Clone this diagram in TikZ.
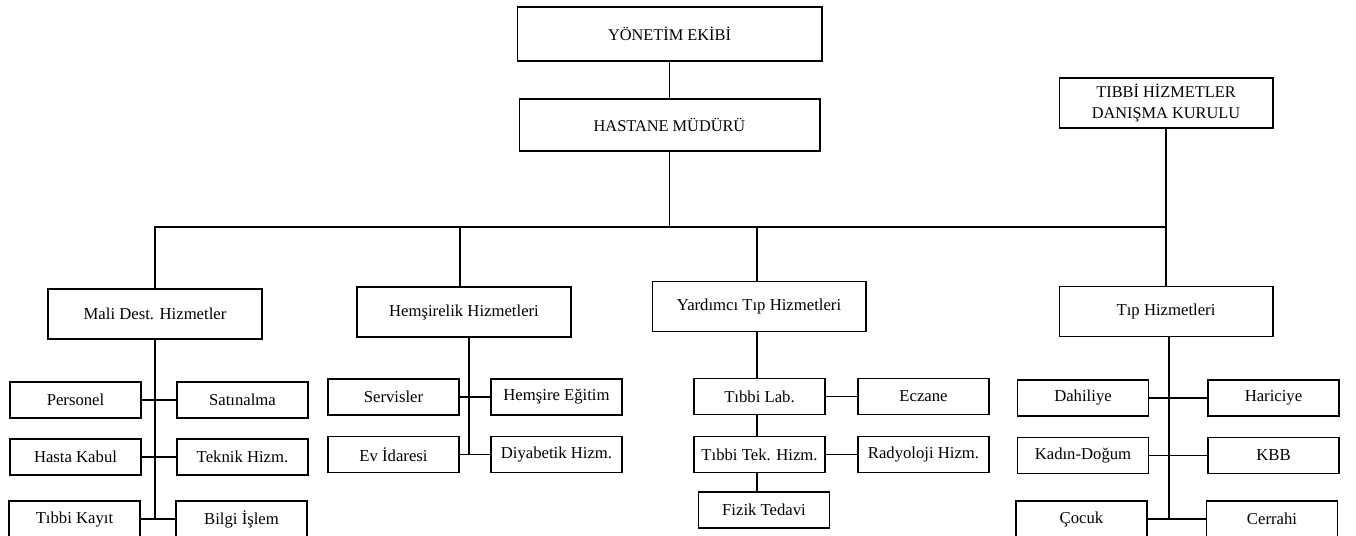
\documentclass[tikz,border=0pt]{standalone}
\usepackage{fontspec}
\setmainfont{Liberation Serif}
\tikzset{
  unit/.style={draw=black, line width=0.6pt, minimum width=4.28cm, minimum height=1cm, inner sep=0pt, font=\fontsize{9.5}{11}\selectfont},
  subunit/.style={draw=black, line width=0.6pt, minimum width=2.62cm, minimum height=0.72cm, inner sep=0pt, font=\fontsize{9.5}{11}\selectfont},
  head/.style={font=\fontsize{9.3}{12}\selectfont, align=center}
}
\begin{document}
\begin{tikzpicture}[x=0.02cm, y=-0.02cm, line width=0.6pt]
\useasboundingbox (0,0) rectangle (1356,535);
\clip (0,0) rectangle (1356,535);
% top of the chart
\node [unit, head, minimum width=6.1cm, minimum height=1.08cm] (yonetim) at (669.5,34) {YÖNETİM EKİBİ};
\node [unit, head, minimum width=6.02cm, minimum height=1.04cm] (mudur) at (669.5,125) {HASTANE MÜDÜRÜ};
\node [unit, head] (danisma) at (1166,103) {TIBBİ HİZMETLER\\DANIŞMA KURULU};
\coordinate (bar) at (0,227);
% departments
\node [unit] (mali) at (155,314) {Mali Dest. Hizmetler};
\node [unit] (hemsire) at (464,312) {Hemşirelik Hizmetleri};
\node [unit] (yardimci) at (759,306.5) {Yardımcı Tıp Hizmetleri};
\node [unit] (tip) at (1166,311.5) {Tıp Hizmetleri};
% mali dest. hizmetler
\node [subunit] (personel) at (75.5,400) {Personel};
\node [subunit] (satinalma) at (242.5,400) {Satınalma};
\node [subunit] (hastakabul) at (75.5,457) {Hasta Kabul};
\node [subunit] (teknik) at (242.5,457) {Teknik Hizm.};
\node [subunit] (tibbikayit) at (74.5,519) {Tıbbi Kayıt};
\node [subunit] (bilgi) at (241.5,519) {Bilgi İşlem};
% hemsirelik hizmetleri
\node [subunit] (servisler) at (393.5,397) {Servisler};
\node [subunit] (egitim) at (556.5,397) {Hemşire Eğitim};
\node [subunit] (evidaresi) at (393.5,454.5) {Ev İdaresi};
\node [subunit] (diyabetik) at (556.5,454.5) {Diyabetik Hizm.};
% yardimci tip hizmetleri
\node [subunit] (tibbilab) at (759.5,396.5) {Tıbbi Lab.};
\node [subunit] (eczane) at (923.5,396.5) {Eczane};
\node [subunit] (tibbitek) at (759.5,454.5) {Tıbbi Tek. Hizm.};
\node [subunit] (radyoloji) at (923.5,454.5) {Radyoloji Hizm.};
\node [subunit] (fizik) at (764,510) {Fizik Tedavi};
% tip hizmetleri
\node [subunit] (dahiliye) at (1083,398) {Dahiliye};
\node [subunit] (hariciye) at (1273.5,398) {Hariciye};
\node [subunit] (kadin) at (1083,455.5) {Kadın-Doğum};
\node [subunit] (kbb) at (1273.5,455.5) {KBB};
\node [subunit] (cocuk) at (1081.5,519) {Çocuk};
\node [subunit] (cerrahi) at (1272,519) {Cerrahi};
% connectors
\draw (yonetim) -- (mudur);
\draw (mudur.south) -- (mudur.south |- bar);
\draw (mali.north) -- (mali.north |- bar) -- (tip.north |- bar);
\draw (danisma) -- (tip);
\draw ([xshift=-0.08cm]hemsire.north) coordinate (hn) -- (hn |- bar);
\draw ([xshift=-0.04cm]yardimci.north) coordinate (yn) -- (yn |- bar);
\draw (mali.south) -- (mali.south |- bilgi.west);
\draw (personel) -- (satinalma);
\draw (hastakabul) -- (teknik);
\draw (tibbikayit) -- (bilgi);
\draw ([xshift=0.1cm]hemsire.south) coordinate (hs) -- (hs |- diyabetik.west);
\draw (servisler) -- (egitim);
\draw (evidaresi) -- (diyabetik);
\draw ([xshift=-0.04cm]yardimci.south) coordinate (ys) -- (ys |- tibbilab.north);
\draw (ys |- tibbilab.south) -- (ys |- tibbitek.north);
\draw (ys |- tibbitek.south) -- (ys |- fizik.north);
\draw (tibbilab) -- (eczane);
\draw (tibbitek) -- (radyoloji);
\draw ([xshift=0.06cm]tip.south) coordinate (ts) -- (ts |- cerrahi.west);
\draw (dahiliye) -- (hariciye);
\draw (kadin) -- (kbb);
\draw (cocuk) -- (cerrahi);
\end{tikzpicture}
\end{document}
